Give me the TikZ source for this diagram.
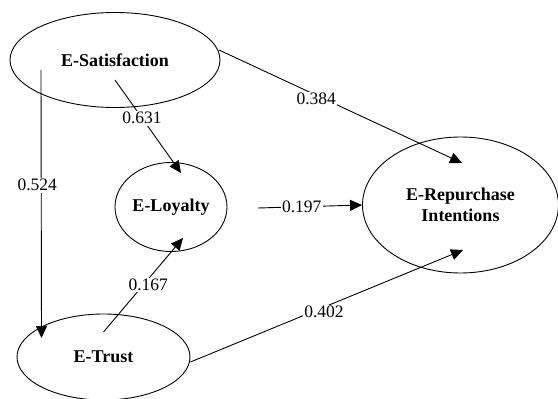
\documentclass[tikz,border=0pt]{standalone}
\usepackage{fontspec}
\setmainfont{Liberation Serif}
\usetikzlibrary{arrows.meta,shapes.geometric}

\begin{document}
\begin{tikzpicture}[x=1pt,y=-1pt,->,>={Triangle[length=12pt,width=11pt]},line width=0.9pt,
  lat node/.style={ellipse,draw,inner sep=0pt,align=center,font=\fontsize{18}{21}\selectfont\bfseries},
  coef node/.style={fill=white,inner sep=1.5pt,font=\fontsize{17.5}{18}\selectfont}]

  \useasboundingbox (0,0) rectangle (558,399);

  \node[lat node,minimum width=210pt,minimum height=95pt] (1) at (115,60) {E-Satisfaction};
  \node[lat node,minimum width=112pt,minimum height=89pt] (2) at (171,207) {E-Loyalty};
  \node[lat node,minimum width=173pt,minimum height=86pt] (3) at (103.5,357) {E-Trust};
  \node[lat node,minimum width=196pt,minimum height=136pt] (4) at (460.5,205) {E-Repurchase\\Intentions};

  \path[every node/.style={coef node}]
    ([xshift=-74pt,yshift=-10pt]1.center) edge node[pos=0.43,xshift=-4pt] {0.524} ([xshift=-62pt,yshift=19pt]3.center)
    ([yshift=-20pt]1.center) edge node[pos=0.41] {0.631} ([xshift=10pt,yshift=34pt]2.center)
    ([xshift=104pt,yshift=10pt]1.center) edge node[pos=0.4,yshift=-4pt] {0.384} ([xshift=1.5pt,yshift=42pt]4.center)
    ([xshift=87pt,yshift=-1pt]2.center) edge node[pos=0.42] {0.197\hspace{9pt}} (4.west)
    ([yshift=25pt]3.center) edge node[pos=0.5,xshift=5pt] {0.167} ([xshift=12pt,yshift=-31pt]2.center)
    ([yshift=-5pt]3.east) edge node[pos=0.49,yshift=-5pt] {0.402} ([xshift=2.5pt,yshift=-45pt]4.center);

\end{tikzpicture}
\end{document}
